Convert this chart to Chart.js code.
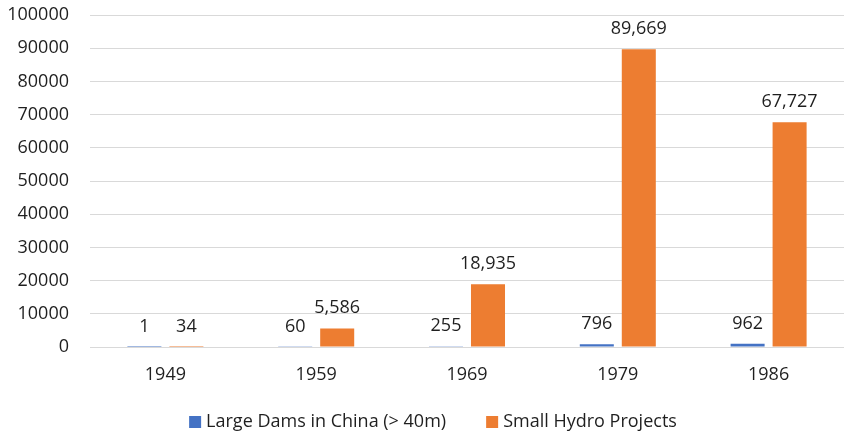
<!DOCTYPE html>
<html>
<head>
<meta charset="utf-8">
<script src="https://cdn.jsdelivr.net/npm/chart.js@4.4.1/dist/chart.umd.min.js"></script>
<style>
  html, body { margin: 0; padding: 0; background: #ffffff; }
  #wrap { width: 844px; height: 435px; position: relative; }
</style>
</head>
<body>
<div id="wrap"><canvas id="chart"></canvas></div>
<script>
// Dam and hydro project counts by year
const years = ['1949', '1959', '1969', '1979', '1986'];
const largeDams = [1, 60, 255, 796, 962];
const smallHydro = [34, 5586, 18935, 89669, 67727];
const yTicks = [0, 10000, 20000, 30000, 40000, 50000, 60000, 70000, 80000, 90000, 100000];

const FONT = '"Open Sans", Lato, sans-serif';
const TEXT = '#1f1f1f';

// Value labels drawn above each bar
const valueLabels = {
  id: 'valueLabels',
  afterDatasetsDraw(chart) {
    const ctx = chart.ctx;
    ctx.save();
    ctx.font = '18px ' + FONT;
    ctx.fillStyle = TEXT;
    ctx.textAlign = 'center';
    ctx.textBaseline = 'alphabetic';
    chart.data.datasets.forEach((ds, di) => {
      const meta = chart.getDatasetMeta(di);
      meta.data.forEach((bar, i) => {
        const v = ds.data[i];
        ctx.fillText(v.toLocaleString('en-US'), bar.x, bar.y - 15);
      });
    });
    ctx.restore();
  }
};

// Horizontal legend under the axis: square swatch + series name
const bottomLegend = {
  id: 'bottomLegend',
  afterDraw(chart) {
    const ctx = chart.ctx;
    const box = 12, gapText = 5, gapItem = 40, centerX = 433, centerY = 422;
    ctx.save();
    ctx.font = '18px ' + FONT;
    ctx.textBaseline = 'middle';
    ctx.textAlign = 'left';
    const items = chart.data.datasets.map(ds => ({
      text: ds.label, color: ds.backgroundColor, w: ctx.measureText(ds.label).width
    }));
    const total = items.reduce((s, it) => s + box + gapText + it.w, 0) + gapItem * (items.length - 1);
    let x = centerX - total / 2;
    items.forEach(it => {
      ctx.fillStyle = it.color;
      ctx.fillRect(x, centerY - box / 2, box, box);
      ctx.fillStyle = TEXT;
      ctx.fillText(it.text, x + box + gapText, centerY);
      x += box + gapText + it.w + gapItem;
    });
    ctx.restore();
  }
};

new Chart(document.getElementById('chart'), {
  type: 'bar',
  data: {
    labels: years,
    datasets: [
      { label: 'Large Dams in China (> 40m)', data: largeDams, backgroundColor: '#4472C4' },
      { label: 'Small Hydro Projects', data: smallHydro, backgroundColor: '#ED7D31' }
    ]
  },
  options: {
    responsive: true,
    maintainAspectRatio: false,
    animation: false,
    layout: { padding: { left: 0, right: 0, top: 15, bottom: 50 } },
    datasets: {
      bar: { categoryPercentage: 0.557, barPercentage: 0.81 }
    },
    scales: {
      x: {
        grid: { display: false, drawTicks: false },
        border: { display: false },
        ticks: { color: TEXT, font: { family: FONT, size: 18 }, padding: 17 },
        afterFit(scale) { scale.height = 38; }
      },
      y: {
        min: 0,
        max: 100000,
        afterBuildTicks(scale) { scale.ticks = yTicks.map(v => ({ value: v })); },
        afterFit(scale) {
          scale.width = 90;
          scale.paddingTop = 0;
          scale.paddingBottom = 0;
        },
        grid: { color: '#d9d9d9', lineWidth: 1, drawTicks: false },
        border: { display: false },
        ticks: {
          color: TEXT,
          font: { family: FONT, size: 18 },
          padding: 21,
          callback: v => String(v)
        }
      }
    },
    plugins: {
      legend: { display: false },
      tooltip: { enabled: false }
    }
  },
  plugins: [valueLabels, bottomLegend]
});
</script>
</body>
</html>
